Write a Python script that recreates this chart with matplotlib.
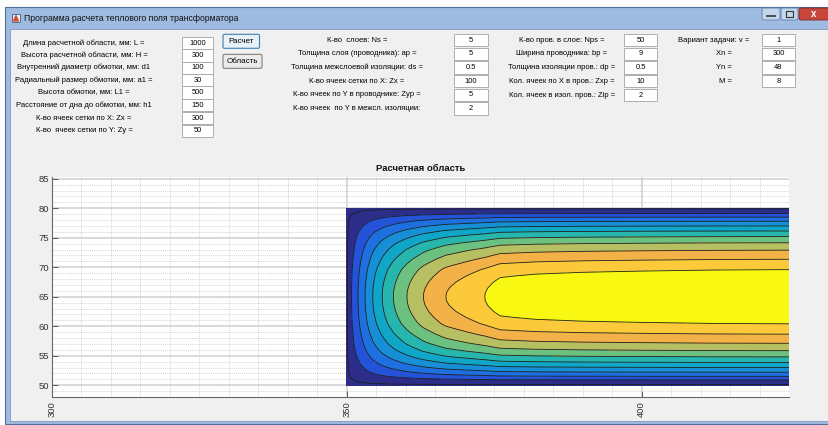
import matplotlib.pyplot as plt
import numpy as np
from matplotlib.colors import ListedColormap, LinearSegmentedColormap
from matplotlib.patches import Rectangle, FancyBboxPatch
from matplotlib.ticker import MultipleLocator

# Размер картинки в пикселях
W, H = 829, 425
plt.rcParams['font.family'] = ['Liberation Sans', 'DejaVu Sans']

# --- Тексты окна ---
win_title = "Программа расчета теплового поля трансформатора"

labels_1 = ["Длина расчетной области, мм: L =",
            "Высота расчетной области, мм: H =",
            "Внутренний диаметр обмотки, мм: d1",
            "Радиальный размер обмотки, мм: a1 =",
            "Высота обмотки, мм: L1 =",
            "Расстояние от дна до обмотки, мм: h1",
            "К-во ячеек сетки по X: Zx =",
            "К-во  ячеек сетки по Y: Zy ="]
values_1 = ["1000", "300", "100", "30", "500", "150", "300", "50"]

labels_2 = ["К-во  слоев: Ns =",
            "Толщина слоя (проводника): ap =",
            "Толщина межслоевой изоляции: ds =",
            "К-во ячеек сетки по X: Zx =",
            "К-во ячеек по Y в проводнике: Zyp =",
            "К-во ячеек  по Y в межсл. изоляции:"]
values_2 = ["5", "5", "0.5", "100", "5", "2"]

labels_3 = ["К-во пров. в слое: Nps =",
            "Ширина проводника: bp =",
            "Толщина изоляции пров.: dp =",
            "Кол. ячеек по X в пров.: Zxp =",
            "Кол. ячеек в изол. пров.: Zip ="]
values_3 = ["50", "9", "0.5", "10", "2"]

labels_4 = ["Вариант задачи: v =", "Xn =", "Yn =", "M ="]
values_4 = ["1", "300", "48", "8"]

buttons = ["Расчет", "Область"]

plot_title = "Расчетная область"
x_ticks = [300, 350, 400]
y_ticks = [50, 55, 60, 65, 70, 75, 80, 85]

# --- Поле температуры: профили (в номерах уровней 0..11) ---
x_prof = [350, 350.8, 351.9, 353.1, 354.4, 356.0, 357.9, 360.2, 363.0, 366.8,
          373.4, 376, 382, 390, 400, 412, 425]
fx_prof = [0, 1, 2, 3, 4, 5, 6, 7, 8, 9,
           10, 10.5, 10.7, 10.82, 10.9, 10.97, 11]
y_prof = [50, 50.9, 51.5, 52.2, 53.0, 53.85, 54.8, 55.85, 57.1, 58.65, 60.4,
          61.5, 62.5, 63.5, 64.3, 65, 65.7, 66.5, 67.5, 68.5,
          69.6, 71.35, 72.9, 74.15, 75.2, 76.15, 77.0, 77.8, 78.5, 79.1, 80]
gy_prof = [0, 1, 2, 3, 4, 5, 6, 7, 8, 9, 10,
           10.4, 10.69, 10.89, 10.98, 11, 10.98, 10.89, 10.69, 10.4,
           10, 9, 8, 7, 6, 5, 4, 3, 2, 1, 0]

band_colors = ['#2b2d88', '#2452d8', '#1e70e0', '#178fd6', '#10a6c8', '#27b6ad',
               '#6cc180', '#b6bf62', '#f2b248', '#fbc93a', '#f8f812']

fig = plt.figure(figsize=(W / 100, H / 100), dpi=100)
fig.patch.set_facecolor('white')

# фон окна в пиксельных координатах
ax0 = fig.add_axes([0, 0, 1, 1])
ax0.axis('off')

ax0.add_patch(Rectangle((5, 7), 824, 417, fc='#9fbbe0', ec='#4f6f9c', lw=0.8))
grad = np.linspace(0, 1, 256)[None, :]
tb_cmap = LinearSegmentedColormap.from_list('tb', ['#d5e3f2', '#c0d3eb', '#8eadd8', '#9fbbe1', '#c4d6ee'])
ax0.imshow(grad, extent=[6, 829, 28, 8], cmap=tb_cmap, aspect='auto')
ax0.add_patch(Rectangle((10, 28.5), 819, 392.5, fc='#f0f0f0', ec='#7f99bd', lw=0.6))

# иконка и заголовок
ax0.add_patch(Rectangle((12, 14), 8, 8, fc='#eef2f8', ec='#3b5b8c', lw=0.6))
ax0.fill([13.5, 18.5, 16], [21, 21, 15.5], color='#d9502a')
ax0.text(24, 18.3, win_title, fontsize=6.2, ha='left', va='center', color='#111')

# кнопки окна
ax0.add_patch(FancyBboxPatch((762, 8), 18, 12, boxstyle='round,pad=0,rounding_size=2',
                             fc='#c3d6ec', ec='#5f7fa8', lw=0.6))
ax0.plot([767, 775], [16, 16], color='#333', lw=1.2)
ax0.add_patch(FancyBboxPatch((781, 8), 17, 12, boxstyle='round,pad=0,rounding_size=2',
                             fc='#c3d6ec', ec='#5f7fa8', lw=0.6))
ax0.add_patch(Rectangle((786, 11), 7, 6, fc='none', ec='#333', lw=0.8))
ax0.add_patch(FancyBboxPatch((799, 8), 30, 12, boxstyle='round,pad=0,rounding_size=2',
                             fc='#c8463c', ec='#7a2a24', lw=0.6))
ax0.text(814, 14.3, 'x', fontsize=7, weight='bold', color='white', ha='center', va='center')


def field_row(lbl, val, lx, bx, bw, yc):
    ax0.text(lx, yc, lbl, fontsize=5.5, ha='center', va='center', color='#000')
    ax0.add_patch(Rectangle((bx, yc - 6.2), bw, 12.4, fc='white', ec='#a3a3a3', lw=0.6))
    ax0.text(bx + bw / 2, yc, val, fontsize=5.4, ha='center', va='center', color='#000')


rows_1 = [43, 55.3, 67.7, 80, 92.4, 105, 118, 130.7]
for lbl, val, yc in zip(labels_1, values_1, rows_1):
    field_row(lbl, val, 84, 182, 31, yc)

rows_2 = [40.2, 53.8, 67.4, 81, 94.7, 108.5]
for lbl, val, yc in zip(labels_2, values_2, rows_2):
    field_row(lbl, val, 357, 454, 34, yc)

rows_3 = [40, 53.7, 67.3, 81, 95.2]
for lbl, val, yc in zip(labels_3, values_3, rows_3):
    field_row(lbl, val, 562, 624, 33, yc)

rows_4 = [40, 53.7, 67.3, 81]
lx_4 = [714, 724, 724, 726]
for lbl, val, yc, lx in zip(labels_4, values_4, rows_4, lx_4):
    field_row(lbl, val, lx, 762, 33, yc)

# кнопки Расчет / Область
ax0.add_patch(FancyBboxPatch((223, 34.3), 36.5, 14, boxstyle='round,pad=0,rounding_size=1.5',
                             fc='#e8f0f8', ec='#3c80b4', lw=0.8))
ax0.text(241.2, 41.5, buttons[0], fontsize=5.8, ha='center', va='center', color='#000')
ax0.add_patch(FancyBboxPatch((223, 54.3), 39, 14, boxstyle='round,pad=0,rounding_size=1.5',
                             fc='#ebebeb', ec='#707070', lw=0.7))
ax0.text(242.5, 61.5, buttons[1], fontsize=5.8, ha='center', va='center', color='#000')

ax0.set_xlim(0, W)
ax0.set_ylim(H, 0)

# --- график ---
ax = fig.add_axes([52 / W, 1 - 397 / H, (789 - 52) / W, (397 - 177) / H])
ax.set_facecolor('white')

xs = np.linspace(350, 425, 600)
ys = np.linspace(50, 80, 400)
X, Y = np.meshgrid(xs, ys)
T = np.interp(X, x_prof, fx_prof) * np.interp(Y, y_prof, gy_prof) / 11.0

ax.contourf(X, Y, T, levels=np.arange(0, 12), cmap=ListedColormap(band_colors), zorder=2)
ax.contour(X, Y, T, levels=[0.12] + list(range(1, 11)), colors='#1e1e1e', linewidths=0.6, zorder=3)

ax.set_xlim(300, 425)
ax.set_ylim(48, 85.3)
ax.set_xticks(x_ticks)
ax.set_yticks(y_ticks)
ax.xaxis.set_minor_locator(MultipleLocator(5))
ax.yaxis.set_minor_locator(MultipleLocator(1))
ax.set_axisbelow(True)
ax.grid(which='major', color='#cfcfcf', lw=1.1, ls='-')
ax.grid(which='minor', color='#c6c6c6', lw=0.5, ls=(0, (1.5, 1.5)))
ax.tick_params(which='major', direction='in', length=4, width=0.6, color='#444',
               labelsize=6.8, labelcolor='#333', pad=2)
ax.tick_params(which='minor', length=0)
ax.tick_params(axis='x', labelrotation=90, pad=3)
for s in ['top', 'right']:
    ax.spines[s].set_visible(False)
for s in ['left', 'bottom']:
    ax.spines[s].set_color('#666')
    ax.spines[s].set_linewidth(0.8)
ax.set_title(plot_title, fontsize=6.8, weight='bold', pad=4, color='#111')

fig.savefig('out.png', dpi=100)
